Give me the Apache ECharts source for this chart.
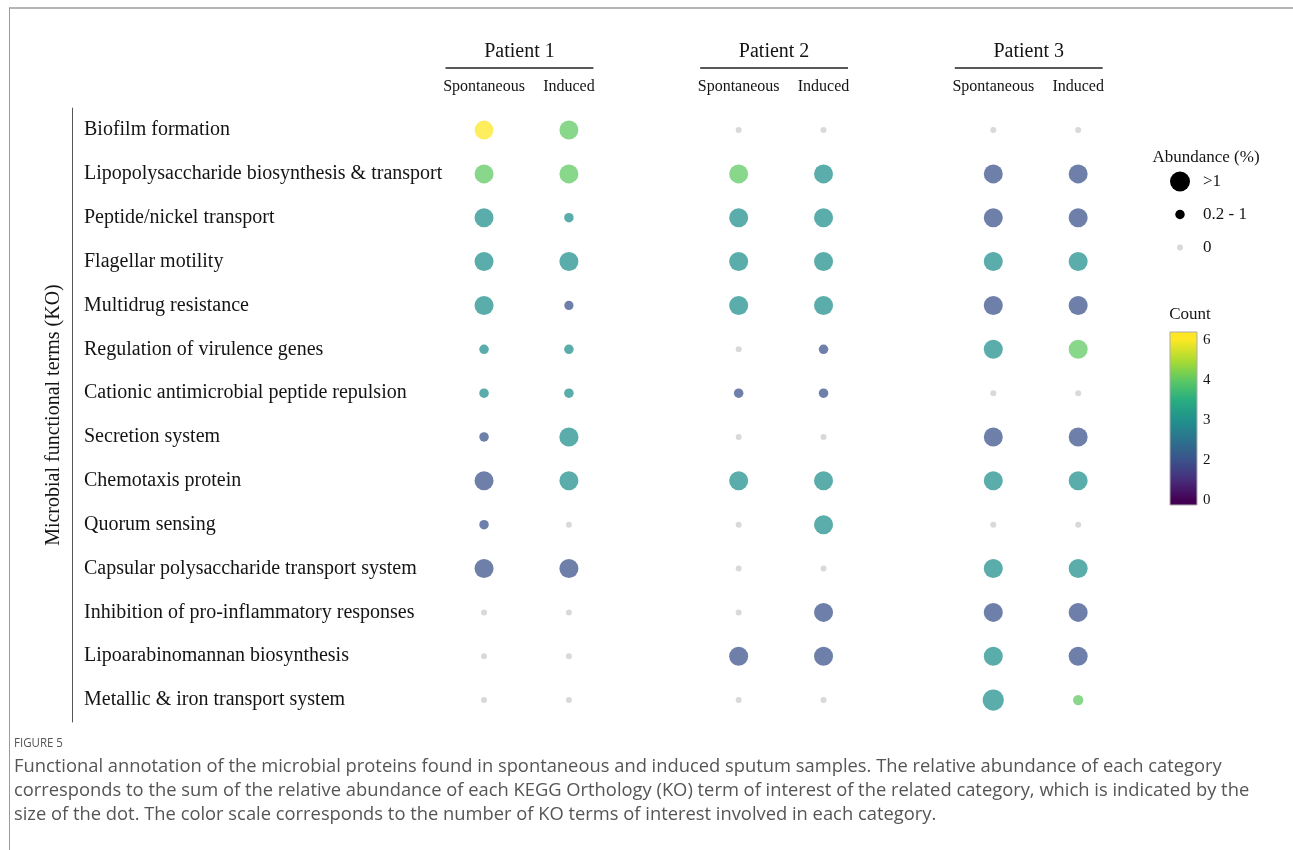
<!DOCTYPE html>
<html>
<head>
<meta charset="utf-8">
<title>Functional annotation of microbial proteins</title>
<script src="https://cdn.jsdelivr.net/npm/echarts@6/dist/echarts.min.js"></script>
<style>
  html, body { margin: 0; padding: 0; background: #fff; }
  #wrap { position: relative; width: 1293px; height: 850px; }
  #chart { width: 1293px; height: 850px; }
  #frame {
    position: absolute; left: 9px; top: 7px; right: 0; bottom: 0;
    border-top: 2px solid #b5b5b5; border-left: 1px solid #9a9a9a;
    pointer-events: none;
  }
</style>
</head>
<body>
<div id="wrap">
  <div id="chart"></div>
  <div id="frame"></div>
</div>
<script>
// ---- data -------------------------------------------------------------
const terms = [
  'Biofilm formation',
  'Lipopolysaccharide biosynthesis & transport',
  'Peptide/nickel transport',
  'Flagellar motility',
  'Multidrug resistance',
  'Regulation of virulence genes',
  'Cationic antimicrobial peptide repulsion',
  'Secretion system',
  'Chemotaxis protein',
  'Quorum sensing',
  'Capsular polysaccharide transport system',
  'Inhibition of pro-inflammatory responses',
  'Lipoarabinomannan biosynthesis',
  'Metallic & iron transport system'
];
const patients = ['Patient 1', 'Patient 2', 'Patient 3'];
const sampleTypes = ['Spontaneous', 'Induced'];

// number of KO terms of interest per category (0 = not detected)
const countP1Spont = [6, 4, 3, 3, 3, 3, 3, 2, 2, 2, 2, 0, 0, 0];
const countP1Ind   = [4, 4, 3, 3, 2, 3, 3, 3, 3, 0, 2, 0, 0, 0];
const countP2Spont = [0, 4, 3, 3, 3, 0, 2, 0, 3, 0, 0, 0, 2, 0];
const countP2Ind   = [0, 3, 3, 3, 3, 2, 2, 0, 3, 3, 0, 2, 2, 0];
const countP3Spont = [0, 2, 2, 3, 2, 3, 0, 2, 3, 0, 3, 2, 3, 3];
const countP3Ind   = [0, 2, 2, 3, 2, 4, 0, 2, 3, 0, 3, 2, 2, 4];

// relative abundance (%) per category
const abundP1Spont = [1.4, 1.5, 1.5, 1.5, 1.5, 0.5, 0.5, 0.5, 1.5, 0.5, 1.5, 0, 0, 0];
const abundP1Ind   = [1.5, 1.5, 0.5, 1.5, 0.4, 0.5, 0.5, 1.6, 1.5, 0, 1.5, 0, 0, 0];
const abundP2Spont = [0, 1.5, 1.5, 1.5, 1.5, 0, 0.5, 0, 1.5, 0, 0, 0, 1.5, 0];
const abundP2Ind   = [0, 1.5, 1.5, 1.5, 1.5, 0.5, 0.5, 0, 1.5, 1.5, 0, 1.5, 1.5, 0];
const abundP3Spont = [0, 1.5, 1.5, 1.5, 1.5, 1.5, 0, 1.5, 1.5, 0, 1.5, 1.5, 1.5, 2.6];
const abundP3Ind   = [0, 1.5, 1.5, 1.5, 1.5, 1.5, 0, 1.5, 1.5, 0, 1.5, 1.5, 1.5, 0.8];

// colour scale ticks (Count) and size legend
const countTicks = [0, 2, 3, 4, 6];
const sizeLegendLabels = ['>1', '0.2 - 1', '0'];
const sizeLegendValues = [2, 0.5, 0];

const captionTitle = 'FIGURE 5';
const captionLines = [
  'Functional annotation of the microbial proteins found in spontaneous and induced sputum samples. The relative abundance of each category',
  'corresponds to the sum of the relative abundance of each KEGG Orthology (KO) term of interest of the related category, which is indicated by the',
  'size of the dot. The color scale corresponds to the number of KO terms of interest involved in each category.'
];

// ---- helpers ----------------------------------------------------------
const SERIF = '"Liberation Serif", "DejaVu Serif", serif';
const CAPTION_FONT = '"Open Sans", "Noto Sans", sans-serif';
const TEXT = '#141414';
const viridis = ['#440154', '#472D7B', '#3B528B', '#2C728E', '#21918C',
                 '#28AE80', '#5EC962', '#ADDC30', '#FDE725'];
const DOT_ALPHA = 0.74;
const ZERO_COLOR = '#d9d9d9';

function hexToRgb(h) {
  return [parseInt(h.slice(1, 3), 16), parseInt(h.slice(3, 5), 16), parseInt(h.slice(5, 7), 16)];
}
function viridisAt(t) {
  t = Math.max(0, Math.min(1, t));
  const f = t * (viridis.length - 1);
  const i = Math.min(viridis.length - 2, Math.floor(f));
  const k = f - i;
  const a = hexToRgb(viridis[i]), b = hexToRgb(viridis[i + 1]);
  return a.map((v, j) => Math.round(v + (b[j] - v) * k));
}
// position of a count on the (piecewise) colour scale, 0 .. countTicks.length-1
function countToPos(c) {
  for (let i = 0; i < countTicks.length - 1; i++) {
    if (c <= countTicks[i + 1]) {
      return i + (c - countTicks[i]) / (countTicks[i + 1] - countTicks[i]);
    }
  }
  return countTicks.length - 1;
}
function dotColor(count, abund) {
  if (!abund || !count) return ZERO_COLOR;
  const rgb = viridisAt(countToPos(count) / (countTicks.length - 1));
  return 'rgba(' + rgb.join(',') + ',' + DOT_ALPHA + ')';
}
function dotSize(abund) {
  if (abund <= 0) return 6;
  if (abund <= 1) return 8 + 3 * abund;
  return 16 + 2 * abund;
}

// ---- build series data -----------------------------------------------
const countCols = [[countP1Spont, countP1Ind], [countP2Spont, countP2Ind], [countP3Spont, countP3Ind]];
const abundCols = [[abundP1Spont, abundP1Ind], [abundP2Spont, abundP2Ind], [abundP3Spont, abundP3Ind]];

const xCats = [];
const colIndex = [];
patients.forEach((p, pi) => {
  colIndex.push([]);
  sampleTypes.forEach((s) => {
    colIndex[pi].push(xCats.length);
    xCats.push(p + '|' + s);
  });
  if (pi < patients.length - 1) xCats.push(p + '|');
});

const dotData = [];
patients.forEach((p, pi) => {
  sampleTypes.forEach((s, si) => {
    terms.forEach((t, ti) => {
      dotData.push([colIndex[pi][si], ti, abundCols[pi][si][ti], countCols[pi][si][ti]]);
    });
  });
});

// colour bar spans the whole scale range with a little overhang
const barRange = [-0.125, (countTicks.length - 1) + 0.2];
const barStops = viridis.map((c, i) => {
  const pos = i / (viridis.length - 1) * (countTicks.length - 1);
  return { offset: (pos - barRange[0]) / (barRange[1] - barRange[0]), color: c };
});
barStops.unshift({ offset: 0, color: viridis[0] });
barStops.push({ offset: 1, color: viridis[viridis.length - 1] });

// ---- chart ------------------------------------------------------------
const chart = echarts.init(document.getElementById('chart'), null, { renderer: 'canvas' });

const option = {
  backgroundColor: 'transparent',
  animation: false,
  title: [
    { text: 'Abundance (%)', left: 1201, top: 144, textAlign: 'center',
      textStyle: { fontFamily: SERIF, fontSize: 17, fontWeight: 'normal', color: TEXT } },
    { text: 'Count', left: 1185, top: 301, textAlign: 'center',
      textStyle: { fontFamily: SERIF, fontSize: 17, fontWeight: 'normal', color: TEXT } }
  ],
  grid: [
    { left: 441.6, top: 108.1, width: 679, height: 613.9 },
    { left: 1170, top: 165, width: 20, height: 99 },
    { left: 1170, top: 332, width: 27, height: 173 }
  ],
  xAxis: [
    {
      gridIndex: 0, type: 'category', data: xCats, position: 'top',
      axisLine: { show: false }, axisTick: { show: false }, splitLine: { show: false },
      axisLabel: {
        interval: 0, margin: 13, fontFamily: SERIF, fontSize: 16, color: TEXT,
        formatter: (v) => v.split('|')[1]
      }
    },
    { gridIndex: 1, type: 'category', data: ['size'], show: false },
    { gridIndex: 2, type: 'value', min: 0, max: 1, show: false }
  ],
  yAxis: [
    {
      gridIndex: 0, type: 'category', data: terms, inverse: true,
      offset: 441.6 - 72,
      axisLine: { show: true, lineStyle: { color: '#555', width: 1 } },
      axisTick: { show: false },
      splitLine: { show: false },
      axisLabel: { inside: true, margin: 12, fontFamily: SERIF, fontSize: 20, color: TEXT },
      name: 'Microbial functional terms (KO)',
      nameLocation: 'middle', nameRotate: 90, nameGap: 5,
      nameTextStyle: { fontFamily: SERIF, fontSize: 20, color: TEXT }
    },
    { gridIndex: 1, type: 'category', data: sizeLegendLabels, inverse: true, show: false },
    {
      gridIndex: 2, type: 'value', min: barRange[0], max: barRange[1], position: 'right',
      axisLine: { show: false }, splitLine: { show: false },
      axisTick: { show: false },
      axisLabel: {
        show: true, margin: 6, fontFamily: SERIF, fontSize: 15, color: TEXT,
        customValues: countTicks.map((c, i) => i),
        formatter: (v) => String(countTicks[Math.round(v)])
      }
    }
  ],
  series: [
    {
      type: 'scatter', xAxisIndex: 0, yAxisIndex: 0,
      data: dotData,
      symbol: 'circle',
      symbolSize: (v) => dotSize(v[2]),
      itemStyle: { color: (p) => dotColor(p.data[3], p.data[2]), opacity: 1 },
      silent: true
    },
    {
      type: 'scatter', xAxisIndex: 1, yAxisIndex: 1,
      data: sizeLegendValues.map((v, i) => ({
        value: [0, i, v], name: sizeLegendLabels[i],
        itemStyle: { color: v > 0 ? '#000' : ZERO_COLOR, opacity: 1 }
      })),
      symbol: 'circle',
      symbolSize: (v) => dotSize(v[2]),
      label: {
        show: true, position: 'inside', align: 'left', offset: [23, 0],
        formatter: '{b}', fontFamily: SERIF, fontSize: 17, color: TEXT
      },
      silent: true
    },
    {
      type: 'custom', xAxisIndex: 2, yAxisIndex: 2,
      data: [[0, barRange[0], barRange[1]]],
      renderItem: (params, api) => {
        const p0 = api.coord([0, api.value(1)]);
        const p1 = api.coord([1, api.value(2)]);
        return {
          type: 'rect',
          shape: { x: p0[0], y: p1[1], width: p1[0] - p0[0], height: p0[1] - p1[1] },
          style: {
            fill: new echarts.graphic.LinearGradient(0, 1, 0, 0, barStops),
            stroke: '#b0b0b0', lineWidth: 0.6
          }
        };
      },
      z: 1,
      silent: true
    }
  ]
};
chart.setOption(option);

// patient headers centred over their two columns, with a rule underneath
const headerGraphics = [];
patients.forEach((p, pi) => {
  const xa = chart.convertToPixel({ xAxisIndex: 0 }, colIndex[pi][0]);
  const xb = chart.convertToPixel({ xAxisIndex: 0 }, colIndex[pi][1]);
  const mid = (xa + xb) / 2 - 7;
  const half = (xb - xa) / 2 + 31.5;
  headerGraphics.push({
    type: 'text', x: mid, y: 52,
    style: { text: p, fontFamily: SERIF, fontSize: 20, fill: TEXT, align: 'center', verticalAlign: 'middle' }
  });
  headerGraphics.push({
    type: 'line', shape: { x1: mid - half, y1: 68, x2: mid + half, y2: 68 },
    style: { stroke: '#222', lineWidth: 1.5 }
  });
});

// figure caption (slightly widened sans to fill the text column)
headerGraphics.push({
  type: 'text', x: 14, y: 743, scaleX: 0.92,
  style: { text: captionTitle, fontFamily: CAPTION_FONT, fontSize: 12.5,
           fill: '#555', verticalAlign: 'middle' }
});
headerGraphics.push({
  type: 'text', x: 14, y: 755, scaleX: 1.048,
  style: { text: captionLines.join('\n'), fontFamily: CAPTION_FONT, fontSize: 17.5,
           lineHeight: 24, fill: '#555', verticalAlign: 'top' }
});

chart.setOption({ graphic: headerGraphics });
</script>
</body>
</html>
